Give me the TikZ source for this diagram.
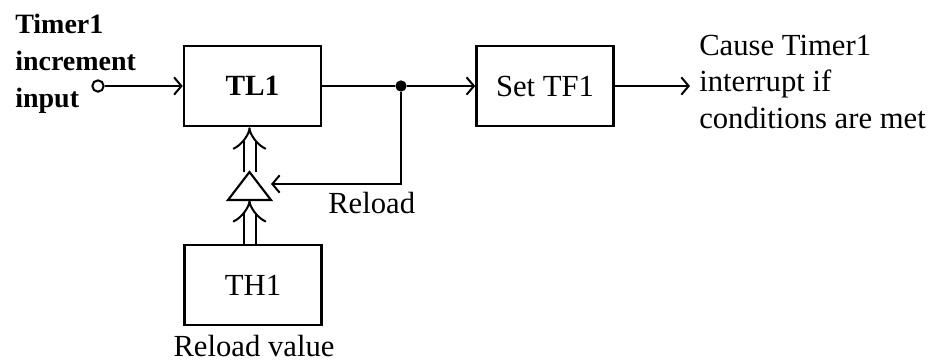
\documentclass[tikz,border=0pt]{standalone}
\usepackage{fontspec}
\setmainfont{Liberation Serif}
\usetikzlibrary{arrows.meta}
\begin{document}
\begin{tikzpicture}[x=0.75pt,y=-0.75pt,
  box/.style={draw, line width=1.9pt, minimum width=102.75pt, minimum height=60pt, inner sep=0pt, font=\fontsize{23}{27}\selectfont},
  conn/.style={line width=1.6pt, -{Straight Barb[length=5.5pt,width=13pt,line width=1.5pt]}},
  wire/.style={line width=1.6pt},
  dbl/.style={double, line width=1.5pt, double distance=7.5pt, -{Implies[length=6pt]}},
  txt/.style={font=\fontsize{23}{27}\selectfont, inner sep=0pt},
  btxt/.style={font=\fontsize{21}{27.75}\selectfont\bfseries, inner sep=0pt}]
\path[fill=white] (0,0) rectangle (940,362);
\useasboundingbox (0,0) rectangle (940,362);

\node[box, font=\fontsize{22}{25}\selectfont\bfseries] (tl1) at (252.5,86) {TL1};
\node[box] (tf1) at (545,86) {Set TF1};
\node[box] (th1) at (253,285) {TH1};

\node[btxt, anchor=base west] (inlbl) at (15,33) {\vtop{\baselineskip=27.75pt\hbox{Timer1}\hbox{increment}\hbox{input}}};
\node[draw, circle, line width=1.5pt, minimum size=8.5pt, inner sep=0pt] (inpt) at (98,86) {};
\draw[conn] (inpt) -- (tl1);
\node[circle, fill, minimum size=8.5pt, inner sep=0pt] (dot) at (401,86) {};
\draw[wire] (tl1) -- (dot);
\draw[conn] (dot) -- (tf1);
\coordinate (outend) at (690,86);
\draw[conn] (tf1) -- (outend);
\node[txt, anchor=base west] (outlbl) at (699,55) {\vtop{\baselineskip=27.4pt\hbox{Cause Timer1}\hbox{interrupt if}\hbox{conditions are met}}};

\coordinate (triapex) at (249.5,172);
\coordinate (tril) at (228,200);
\coordinate (trir) at (271,200);
\coordinate (tribase) at (249.5,200);
\coordinate (fbend) at (271,184);
\draw[conn] (dot) |- (fbend);
\node[txt, anchor=base west] (rl) at (328,213) {Reload};
\draw[dbl] (triapex) -- (tl1.south -| triapex);
\draw[dbl] (th1.north -| tribase) -- (tribase);
\draw[line width=1.6pt, line join=miter, fill=white] (triapex) -- (tril) -- (trir) -- cycle;
\node[txt, anchor=base] (rv) at (254,356) {Reload value};
\end{tikzpicture}
\end{document}
